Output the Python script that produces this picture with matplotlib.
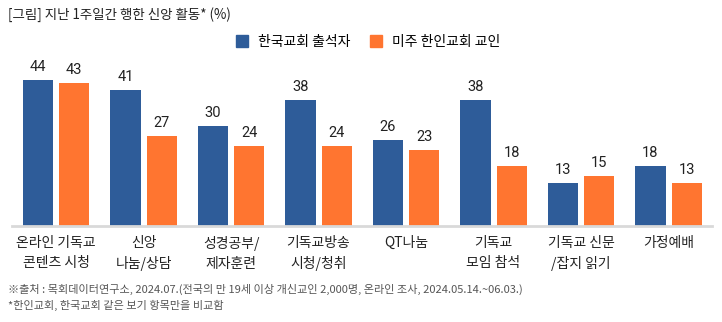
import numpy as np
import matplotlib
matplotlib.use("Agg")
import matplotlib.pyplot as plt
from matplotlib.patches import Patch

plt.rcParams['font.family'] = ['Noto Sans CJK KR', 'DejaVu Sans']

categories = ["온라인 기독교\n콘텐츠 시청", "신앙\n나눔/상담", "성경공부/\n제자훈련", "기독교방송\n시청/청취",
              "QT나눔", "기독교\n모임 참석", "기독교 신문\n/잡지 읽기", "가정예배"]
korea = [44, 41, 30, 38, 26, 38, 13, 18]
usa = [43, 27, 24, 24, 23, 18, 15, 13]
series_names = ["한국교회 출석자", "미주 한인교회 교인"]

blue = "#2E5C99"
orange = "#FF7530"

fig = plt.figure(figsize=(7.22, 3.22), dpi=100)
ax = fig.add_axes([12.3 / 722, 96 / 322, 700 / 722, 166 / 322])

x = np.arange(len(categories))
w = 0.345
off = 0.207
b1 = ax.bar(x - off, korea, w, color=blue)
b2 = ax.bar(x + off, usa, w, color=orange)

for bars, vals in ((b1, korea), (b2, usa)):
    for rect, v in zip(bars, vals):
        ax.text(rect.get_x() + rect.get_width() / 2, v + 1.8, str(v),
                ha='center', va='bottom', fontsize=10.5, color='#222222',
                family=['Roboto', 'DejaVu Sans'])

ax.set_xlim(-0.5, 7.5)
ax.set_ylim(0, 50)
ax.set_yticks([])
ax.set_xticks(x)
ax.set_xticklabels(categories, fontsize=10, linespacing=1.55, color='#222222')
ax.tick_params(axis='x', length=0, pad=7)
for s in ['top', 'right', 'left']:
    ax.spines[s].set_visible(False)
ax.spines['bottom'].set_color('#d9d9d9')
ax.spines['bottom'].set_linewidth(2)

fig.text(8 / 722, 1 - 15 / 322, "[그림] 지난 1주일간 행한 신앙 활동* (%)",
         fontsize=9.7, va='center', ha='left', color='#222222')

handles = [Patch(color=blue), Patch(color=orange)]
fig.legend(handles, series_names, loc='center left', bbox_to_anchor=(230 / 722, 1 - 42 / 322),
           ncol=2, frameon=False, fontsize=10, handlelength=0.9, handleheight=0.9,
           handletextpad=0.7, columnspacing=1.4, borderaxespad=0)

fig.text(8 / 722, 1 - 289 / 322,
         "※출처 : 목회데이터연구소, 2024.07.(전국의 만 19세 이상 개신교인 2,000명, 온라인 조사, 2024.05.14.~06.03.)",
         fontsize=8, va='center', ha='left', color='#555555')
fig.text(8 / 722, 1 - 305 / 322, "*한인교회, 한국교회 같은 보기 항목만을 비교함",
         fontsize=8, va='center', ha='left', color='#555555')

fig.savefig("out.png", dpi=100)
